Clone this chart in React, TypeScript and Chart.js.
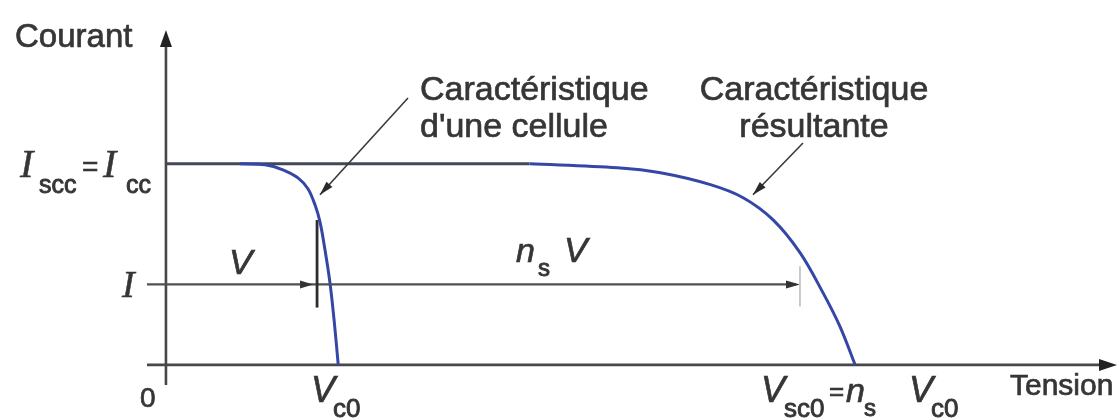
import { useEffect, useRef } from "react";
import { Chart, registerables } from "chart.js";

Chart.register(...registerables);

// Axis ranges (volts relative to V_c0, amps relative to I_cc)
const X_MIN = -0.11;
const X_MAX = 5.52;
const Y_MIN = -0.1;
const Y_MAX = 1.665;

// Short-circuit current plateau shared by both curves
const plateauVoltage = [0, 2.11];
const plateauCurrent = [1, 1];

// I-V characteristic of one cell
const cellVoltage = [0.43, 0.575, 0.679, 0.766, 0.824, 0.865, 0.894, 0.923, 0.952, 0.977, 1.0];
const cellCurrent = [1.0, 0.995, 0.97, 0.93, 0.876, 0.796, 0.711, 0.572, 0.408, 0.214, 0];

// Resulting characteristic of n_s cells in series
const stringVoltage = [2.11, 2.62, 2.87, 3.16, 3.35, 3.524, 3.681, 3.814, 3.913, 4.0];
const stringCurrent = [1.0, 0.98, 0.955, 0.896, 0.831, 0.721, 0.557, 0.358, 0.189, 0];

// Operating point used for the V / n_s V dimension lines
const operatingCurrent = 0.4;
const cellOperatingVoltage = 0.877;
const stringOperatingVoltage = 3.68;

const toPoints = (xs: number[], ys: number[]) => xs.map((x, i) => ({ x, y: ys[i] }));

const INK = "#363636";
const AXIS = "#474747";
const CURVE = "#3447a6";

function arrowHead(
  ctx: CanvasRenderingContext2D,
  fx: number,
  fy: number,
  tx: number,
  ty: number,
  len: number,
  half: number,
  color: string
) {
  const a = Math.atan2(ty - fy, tx - fx);
  const bx = tx - Math.cos(a) * len;
  const by = ty - Math.sin(a) * len;
  ctx.save();
  ctx.fillStyle = color;
  ctx.beginPath();
  ctx.moveTo(tx, ty);
  ctx.lineTo(bx + Math.sin(a) * half, by - Math.cos(a) * half);
  ctx.lineTo(bx - Math.sin(a) * half, by + Math.cos(a) * half);
  ctx.closePath();
  ctx.fill();
  ctx.restore();
}

function line(
  ctx: CanvasRenderingContext2D,
  x1: number,
  y1: number,
  x2: number,
  y2: number,
  color: string,
  width: number
) {
  ctx.save();
  ctx.strokeStyle = color;
  ctx.lineWidth = width;
  ctx.beginPath();
  ctx.moveTo(x1, y1);
  ctx.lineTo(x2, y2);
  ctx.stroke();
  ctx.restore();
}

function text(
  ctx: CanvasRenderingContext2D,
  s: string,
  x: number,
  y: number,
  font: string,
  align: CanvasTextAlign = "left",
  weight = 0.7
) {
  ctx.save();
  ctx.font = font;
  ctx.fillStyle = INK;
  ctx.strokeStyle = INK;
  ctx.lineWidth = weight;
  ctx.textAlign = align;
  ctx.textBaseline = "alphabetic";
  ctx.fillText(s, x, y);
  if (weight > 0) ctx.strokeText(s, x, y);
  ctx.restore();
}

const SANS = '"Liberation Sans", Arial, sans-serif';
const SERIF = '"Liberation Serif", "Times New Roman", serif';

const axesPlugin = {
  id: "arrowAxes",
  beforeDatasetsDraw(chart: any) {
    const { ctx, scales } = chart;
    const x = scales.x;
    const y = scales.y;
    const ox = x.getPixelForValue(0);
    const oy = y.getPixelForValue(0);
    const top = y.getPixelForValue(Y_MAX);
    const bottom = y.getPixelForValue(Y_MIN);
    const left = x.getPixelForValue(X_MIN);
    const right = x.getPixelForValue(X_MAX);
    line(ctx, ox, bottom, ox, top + 10, AXIS, 2.6);
    arrowHead(ctx, ox, bottom, ox, top, 17, 6, "#222");
    line(ctx, left, oy, right - 10, oy, AXIS, 2.6);
    arrowHead(ctx, left, oy, right, oy, 18, 6, "#222");
  },
};

const labelsPlugin = {
  id: "diagramLabels",
  afterDatasetsDraw(chart: any) {
    const { ctx, scales } = chart;
    const X = (v: number) => scales.x.getPixelForValue(v);
    const Y = (v: number) => scales.y.getPixelForValue(v);
    const ox = X(0);
    const oy = Y(0);

    // Dimension line at the operating current
    const iy = Y(operatingCurrent);
    line(ctx, X(X_MIN), iy, X(stringOperatingVoltage) - 4, iy, "#505050", 2.2);
    arrowHead(ctx, X(0.5), iy, X(cellOperatingVoltage) - 4, iy, 13, 4, "#333");
    arrowHead(ctx, X(2), iy, X(stringOperatingVoltage), iy, 14, 4, "#333");
    line(ctx, X(cellOperatingVoltage), Y(0.72), X(cellOperatingVoltage), Y(0.285), "#2e2e2e", 2.8);
    line(ctx, X(stringOperatingVoltage), Y(0.49), X(stringOperatingVoltage), Y(0.29), "#b8b8b8", 1.5);

    // Leader arrows to each characteristic
    const c1 = { x: X(0.894), y: Y(0.846) };
    line(ctx, 408, 98, c1.x, c1.y, "#3a3a3a", 1.6);
    arrowHead(ctx, 408, 98, c1.x, c1.y, 14, 4, "#2a2a2a");
    const c2 = { x: X(3.407), y: Y(0.846) };
    line(ctx, 803, 143, c2.x, c2.y, "#3a3a3a", 1.6);
    arrowHead(ctx, 803, 143, c2.x, c2.y, 14, 4, "#2a2a2a");

    // Axis titles
    text(ctx, "Courant", 15, 47, `33px ${SANS}`);
    text(ctx, "Tension", 1010, 395, `30px ${SANS}`);
    text(ctx, "0", ox - 26, oy + 42, `28px ${SANS}`);

    // I_scc = I_cc
    const iccY = Y(1) + 13;
    text(ctx, "I", 20, iccY, `italic 40px ${SERIF}`, "left", 0.5);
    text(ctx, "scc", 39, iccY + 16, `25px ${SANS}`, "left", 0.9);
    text(ctx, "=", 82, iccY - 1, `28px ${SANS}`);
    text(ctx, "I", 103, iccY, `italic 40px ${SERIF}`, "left", 0.5);
    text(ctx, "cc", 126, iccY + 16, `25px ${SANS}`, "left", 0.9);

    // I and V, n_s V
    text(ctx, "I", 122, iy + 13, `italic 38px ${SERIF}`, "left", 0.5);
    text(ctx, "V", 229, iy - 10, `italic 35px ${SANS}`);
    text(ctx, "n", 516, iy - 22, `italic 34px ${SANS}`);
    text(ctx, "s", 538, iy - 8, `24px ${SANS}`, "left", 0.9);
    text(ctx, "V", 564, iy - 22, `italic 35px ${SANS}`);

    // Open-circuit voltages
    const vy = oy + 37;
    text(ctx, "V", 311, vy, `italic 36px ${SANS}`);
    text(ctx, "c0", 333, vy + 15, `26px ${SANS}`, "left", 0.9);
    text(ctx, "V", 761, vy, `italic 36px ${SANS}`);
    text(ctx, "sc0", 784, vy + 15, `26px ${SANS}`, "left", 0.9);
    text(ctx, "=", 829, vy - 2, `26px ${SANS}`);
    text(ctx, "n", 846, vy, `italic 34px ${SANS}`);
    text(ctx, "s", 864, vy + 14, `24px ${SANS}`, "left", 0.9);
    text(ctx, "V", 909, vy, `italic 36px ${SANS}`);
    text(ctx, "c0", 931, vy + 15, `26px ${SANS}`, "left", 0.9);

    // Curve captions
    text(ctx, "Caractéristique", 420, 100, `34px ${SANS}`);
    text(ctx, "d'une cellule", 420, 137, `34px ${SANS}`);
    text(ctx, "Caractéristique", 814, 100, `34px ${SANS}`, "center");
    text(ctx, "résultante", 814, 137, `34px ${SANS}`, "center");
  },
};

export default function App() {
  const ref = useRef<HTMLCanvasElement>(null);

  useEffect(() => {
    const canvas = ref.current;
    if (!canvas) return;
    const common = {
      showLine: true,
      pointRadius: 0,
      pointHoverRadius: 0,
      fill: false,
      tension: 0.35,
    };
    const chart = new Chart(canvas, {
      type: "scatter",
      data: {
        datasets: [
          {
            ...common,
            label: "Caractéristique d'une cellule",
            data: toPoints(cellVoltage, cellCurrent),
            borderColor: CURVE,
            borderWidth: 3,
            order: 1,
          },
          {
            ...common,
            label: "Caractéristique résultante",
            data: toPoints(stringVoltage, stringCurrent),
            borderColor: CURVE,
            borderWidth: 3,
            order: 1,
          },
          {
            ...common,
            label: "Icc",
            data: toPoints(plateauVoltage, plateauCurrent),
            borderColor: "#434859",
            borderWidth: 3,
            tension: 0,
            order: 3,
          },
        ],
      },
      options: {
        responsive: false,
        animation: false,
        devicePixelRatio: 1,
        layout: { padding: { left: 147, right: 3, top: 30, bottom: 35 } },
        scales: {
          x: { type: "linear", min: X_MIN, max: X_MAX, display: false },
          y: { type: "linear", min: Y_MIN, max: Y_MAX, display: false },
        },
        plugins: {
          legend: { display: false },
          tooltip: { enabled: false },
        },
        events: [],
      },
      plugins: [axesPlugin, labelsPlugin],
    });
    return () => chart.destroy();
  }, []);

  return (
    <div style={{ position: "fixed", left: 0, top: 0, width: 1120, height: 420, background: "#fff" }}>
      <canvas ref={ref} width={1120} height={420} style={{ display: "block" }} />
    </div>
  );
}
